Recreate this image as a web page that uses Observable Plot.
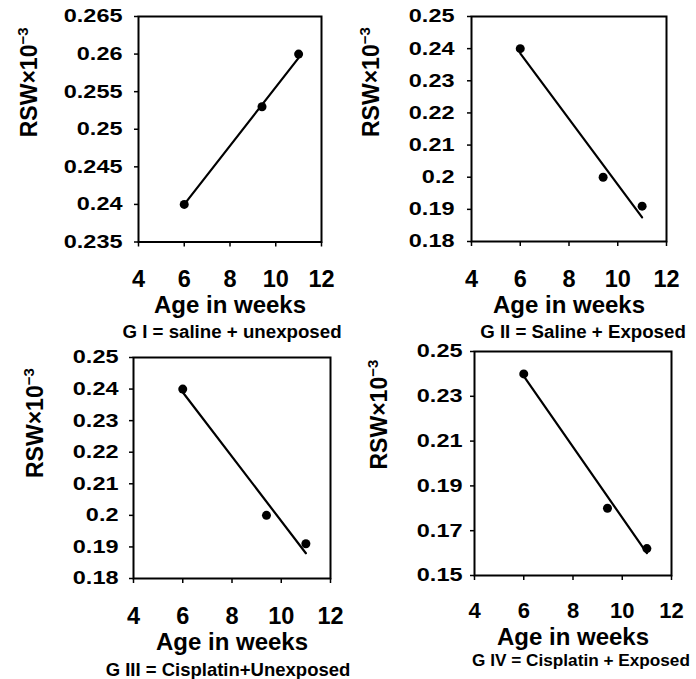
<!DOCTYPE html>
<html><head><meta charset="utf-8">
<script src="https://cdn.jsdelivr.net/npm/d3@7"></script>
<script src="https://cdn.jsdelivr.net/npm/@observablehq/plot@0.6"></script>
<style>
body{margin:0;background:#fff;}
#wrap{position:relative;width:696px;height:679px;font-family:"Liberation Sans",Arial,sans-serif;font-weight:bold;color:#000;}
.panel{position:absolute;z-index:1;}
.caption{position:absolute;z-index:5;font-weight:bold;white-space:nowrap;transform:translateX(-50%);}
</style></head><body><div id="wrap"></div>
<script>
// ---- data ----
const ageWeeks = [6, 9.4, 11];
const rswGI = [0.24, 0.253, 0.26];
const rswGII = [0.24, 0.2, 0.191];
const rswGIII = [0.24, 0.2, 0.191];
const rswGIV = [0.24, 0.18, 0.162];
const trendAge = [6, 11];
const trendGI = [0.24, 0.2595];
const trendGII = [0.2385, 0.1875];
const trendGIII = [0.239, 0.188];
const trendGIV = [0.239, 0.16];
const xTicks = [4, 6, 8, 10, 12];
const yTicksGI = [0.235, 0.24, 0.245, 0.25, 0.255, 0.26, 0.265];
const yTicksGII = [0.18, 0.19, 0.2, 0.21, 0.22, 0.23, 0.24, 0.25];
const yTicksGIII = [0.18, 0.19, 0.2, 0.21, 0.22, 0.23, 0.24, 0.25];
const yTicksGIV = [0.15, 0.17, 0.19, 0.21, 0.23, 0.25];
const captions = ["G I = saline + unexposed", "G II = Saline + Exposed", "G III = Cisplatin+Unexposed", "G IV = Cisplatin + Exposed"];
const xLabel = "Age in weeks";
const yLabelMain = "RSW×10";
const yLabelSup = "−3";

// ---- layout ----
const panels = [
  {rsw: rswGI, trend: trendGI, yTicks: yTicksGI, caption: captions[0],
   left: 0, top: 0, w: 348, h: 320, mL: 138, mR: 27, mT: 16, mB: 78.5,
   yPad: 12, xPad: 28.5, xFs: 23.5, xLabDy: 53.5, yLabDx: -109, yLabDy: 8,
   capX: 232, capY: 322.5, capFs: 18.7},
  {rsw: rswGII, trend: trendGII, yTicks: yTicksGII, caption: captions[1],
   left: 348, top: 0, w: 348, h: 320, mL: 123, mR: 30, mT: 16, mB: 79,
   yPad: 13, xPad: 29, xFs: 23.5, xLabDy: 54, yLabDx: -100, yLabDy: 8,
   capX: 583, capY: 322.5, capFs: 18.7},
  {rsw: rswGIII, trend: trendGIII, yTicks: yTicksGIII, caption: captions[2],
   left: 0, top: 320, w: 348, h: 330, mL: 133, mR: 18, mT: 37, mB: 72,
   yPad: 11, xPad: 29, xFs: 23.5, xLabDy: 54, yLabDx: -98, yLabDy: 10,
   capX: 228, capY: 660.5, capFs: 18.5},
  {rsw: rswGIV, trend: trendGIV, yTicks: yTicksGIV, caption: captions[3],
   left: 348, top: 320, w: 348, h: 330, mL: 126, mR: 25, mT: 31, mB: 75,
   yPad: 8, xPad: 27, xFs: 22, xLabDy: 52, yLabDx: -94.5, yLabDy: 6,
   capX: 581, capY: 652, capFs: 17.2}
];

const wrap = document.getElementById("wrap");
const font = '"Liberation Sans", Arial, sans-serif';

for (const p of panels) {
  const pts = ageWeeks.map((a, i) => ({age: a, rsw: p.rsw[i]}));
  const trend = trendAge.map((a, i) => ({age: a, rsw: p.trend[i]}));
  const chart = Plot.plot({
    width: p.w, height: p.h,
    marginLeft: p.mL, marginRight: p.mR, marginTop: p.mT, marginBottom: p.mB,
    style: {fontFamily: font, fontWeight: "bold", background: "white", color: "black", overflow: "visible"},
    x: {domain: [4, 12]},
    y: {domain: [p.yTicks[0], p.yTicks[p.yTicks.length - 1]]},
    marks: [
      Plot.frame({stroke: "black", strokeWidth: 2}),
      Plot.axisY({ticks: p.yTicks, tickSize: 4, tickPadding: p.yPad, fontSize: 18.5, strokeWidth: 1.5,
        tickFormat: d => String(d), label: null}),
      Plot.axisX({ticks: xTicks, tickSize: 5, tickPadding: p.xPad - 5, fontSize: p.xFs, strokeWidth: 1.5,
        tickFormat: d => String(d), label: null}),
      Plot.line(trend, {x: "age", y: "rsw", stroke: "black", strokeWidth: 2.2}),
      Plot.dot(pts, {x: "age", y: "rsw", r: 4.5, fill: "black"}),
      Plot.text([xLabel], {frameAnchor: "bottom", dy: p.xLabDy, lineAnchor: "top", fontSize: 24, fontWeight: "bold", fill: "black"}),
      Plot.text([yLabelMain + yLabelSup], {frameAnchor: "left", dx: p.yLabDx, dy: p.yLabDy, rotate: -90, fontSize: 23, fontWeight: "bold", fill: "black"})
    ]
  });
  // widen y tick labels horizontally as in the reference
  chart.querySelectorAll('g[aria-label="y-axis tick label"] text').forEach(t => {
    const tr = t.getAttribute("transform") || "";
    t.setAttribute("transform", tr + " scale(1.27,1)");
  });
  // superscript exponent in y label
  chart.querySelectorAll("text").forEach(t => {
    if (t.textContent === yLabelMain + yLabelSup) {
      const tgt = t.querySelector("tspan") || t;
      tgt.textContent = yLabelMain;
      const sup = document.createElementNS("http://www.w3.org/2000/svg", "tspan");
      sup.setAttribute("font-size", "15");
      sup.setAttribute("dy", "-9");
      sup.textContent = yLabelSup;
      tgt.appendChild(sup);
    }
  });
  const div = document.createElement("div");
  div.className = "panel";
  div.style.left = p.left + "px";
  div.style.top = p.top + "px";
  div.appendChild(chart);
  wrap.appendChild(div);
  const cap = document.createElement("div");
  cap.className = "caption";
  cap.style.left = p.capX + "px";
  cap.style.top = p.capY + "px";
  cap.style.fontSize = p.capFs + "px";
  cap.style.lineHeight = p.capFs + "px";
  cap.textContent = p.caption;
  wrap.appendChild(cap);
}
</script>
</body></html>
